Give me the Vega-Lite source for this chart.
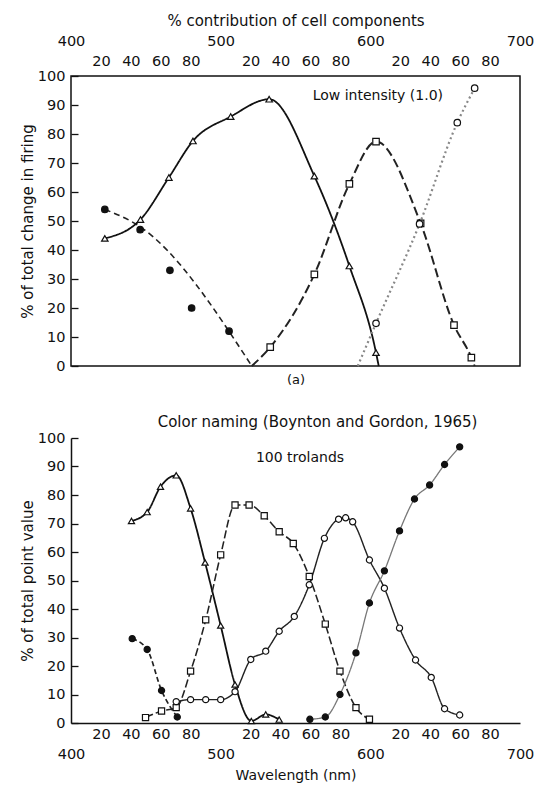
{
  "$schema": "https://vega.github.io/schema/vega-lite/v6.json",
  "background": "white",
  "padding": {"left": 19, "top": 12, "right": 5, "bottom": 0},
  "spacing": 28,
  "config": {
    "font": "DejaVu Sans",
    "view": {"stroke": null},
    "axis": {"labelFont": "DejaVu Sans", "titleFont": "DejaVu Sans", "labelColor": "#111", "titleColor": "#111", "labelFontSize": 14.5, "titleFontSize": 15, "titleFontWeight": "normal", "grid": false, "domainColor": "#111", "tickColor": "#111", "domainWidth": 1.5, "tickWidth": 1.3},
    "title": {"font": "DejaVu Sans", "fontWeight": "normal", "color": "#111"}
  },
  "resolve": {"scale": {"x": "independent", "y": "independent", "shape": "independent", "fill": "independent", "strokeDash": "independent", "strokeWidth": "independent", "color": "independent"}},
  "vconcat": [
    {
      "width": 449,
      "height": 290,
      "view": {"stroke": "#111", "strokeWidth": 1.5},
      "data": {"values": [
        {"series": "fc", "wl": 422.6, "pct": 54.0},
        {"series": "fc", "wl": 446.2, "pct": 47.0},
        {"series": "fc", "wl": 466.1, "pct": 33.0},
        {"series": "fc", "wl": 480.6, "pct": 20.0},
        {"series": "fc", "wl": 505.6, "pct": 12.0},
        {"series": "fcFit", "wl": 422.6, "pct": 54.0},
        {"series": "fcFit", "wl": 446.2, "pct": 48.0},
        {"series": "fcFit", "wl": 520.8, "pct": 0},
        {"series": "tri", "wl": 422.6, "pct": 44.0},
        {"series": "tri", "wl": 446.4, "pct": 50.5},
        {"series": "tri", "wl": 465.4, "pct": 65.0},
        {"series": "tri", "wl": 481.5, "pct": 77.6},
        {"series": "tri", "wl": 506.7, "pct": 86.0},
        {"series": "tri", "wl": 532.4, "pct": 92.0},
        {"series": "tri", "wl": 562.6, "pct": 65.5},
        {"series": "tri", "wl": 586.0, "pct": 34.5},
        {"series": "tri", "wl": 603.8, "pct": 4.6},
        {"series": "tri", "wl": 605.6, "pct": 0},
        {"series": "sq", "wl": 520.8, "pct": 0},
        {"series": "sq", "wl": 533.1, "pct": 6.5},
        {"series": "sq", "wl": 562.6, "pct": 31.6},
        {"series": "sq", "wl": 586.0, "pct": 62.8},
        {"series": "sq", "wl": 603.8, "pct": 77.4},
        {"series": "sq", "wl": 633.6, "pct": 49.2},
        {"series": "sq", "wl": 655.9, "pct": 14.1},
        {"series": "sq", "wl": 667.5, "pct": 2.9},
        {"series": "sq", "wl": 669.7, "pct": 0},
        {"series": "oc", "wl": 591.6, "pct": 0},
        {"series": "oc", "wl": 603.8, "pct": 14.7},
        {"series": "oc", "wl": 632.9, "pct": 49.0},
        {"series": "oc", "wl": 658.1, "pct": 83.9},
        {"series": "oc", "wl": 669.7, "pct": 95.8}
      ]},
      "encoding": {
        "y": {"field": "pct", "type": "quantitative", "scale": {"domain": [0, 100], "nice": false, "zero": false},
          "axis": {"values": [0, 10, 20, 30, 40, 50, 60, 70, 80, 90, 100], "domain": false, "tickSize": -7, "labelPadding": 13, "title": "% of total change in firing", "titlePadding": 2}}
      },
      "layer": [
        {
          "transform": [{"filter": "datum.series != 'fc'"}],
          "mark": {"type": "line", "interpolate": "monotone"},
          "encoding": {
            "x": {"field": "wl", "type": "quantitative", "scale": {"domain": [400, 700], "nice": false, "zero": false},
              "axis": {"orient": "top", "values": [420, 440, 460, 480, 520, 540, 560, 580, 620, 640, 660, 680],
                "labelExpr": "format(datum.value % 100, 'd')",
                "ticks": false, "domain": false, "labelPadding": 8, "labelFlush": false, "labelOverlap": false, "title": null}},
            "detail": {"field": "series"},
            "color": {"field": "series", "type": "nominal", "scale": {"domain": ["fcFit", "tri", "sq", "oc"], "range": ["#222", "#111", "#222", "#888"]}, "legend": null},
            "strokeDash": {"field": "series", "type": "nominal", "scale": {"domain": ["fcFit", "tri", "sq", "oc"], "range": [[6, 4], [1, 0], [9, 4], [2, 3]]}, "legend": null},
            "strokeWidth": {"field": "series", "type": "nominal", "scale": {"domain": ["fcFit", "tri", "sq", "oc"], "range": [1.6, 2.2, 1.7, 1]}, "legend": null}
          }
        },
        {
          "transform": [{"filter": "datum.pct > 0 && datum.series != 'fcFit'"}],
          "mark": {"type": "point", "filled": true, "stroke": "#111", "strokeWidth": 1.2, "size": 42, "opacity": 1},
          "encoding": {
            "x": {"field": "wl", "type": "quantitative", "scale": {"domain": [400, 700], "nice": false, "zero": false},
              "axis": {"orient": "bottom", "labels": false, "ticks": false, "domain": false, "title": "(a)", "titleFontSize": 13, "titlePadding": 7}},
            "shape": {"field": "series", "type": "nominal", "scale": {"domain": ["fc", "tri", "sq", "oc"], "range": ["circle", "triangle-up", "square", "circle"]}, "legend": null},
            "fill": {"field": "series", "type": "nominal", "scale": {"domain": ["fc", "tri", "sq", "oc"], "range": ["#111", "white", "white", "white"]}, "legend": null}
          }
        },
        {
          "data": {"values": [{"label": "Low intensity (1.0)", "wl": 605, "pct": 93}]},
          "mark": {"type": "text", "font": "DejaVu Sans", "fontSize": 14, "color": "#111"},
          "encoding": {
            "x": {"field": "wl", "type": "quantitative", "scale": {"domain": [400, 700], "nice": false, "zero": false},
              "axis": {"orient": "top", "values": [400, 500, 600, 700], "offset": 20, "ticks": false, "domain": false, "labelPadding": 8, "labelFlush": false, "labelOverlap": false,
                "title": "% contribution of cell components", "titlePadding": 5}},
            "text": {"field": "label"}
          }
        }
      ],
      "resolve": {"axis": {"x": "independent"}}
    },
    {
      "width": 449,
      "height": 285,
      "title": {"text": "Color naming (Boynton and Gordon, 1965)", "fontSize": 15, "anchor": "middle", "dx": 22, "offset": 0},
      "data": {"values": [
        {"series": "tri", "wl": 440.4, "pct": 70.9},
        {"series": "tri", "wl": 450.9, "pct": 74.0},
        {"series": "tri", "wl": 459.8, "pct": 82.9},
        {"series": "tri", "wl": 470.3, "pct": 86.9},
        {"series": "tri", "wl": 479.9, "pct": 75.3},
        {"series": "tri", "wl": 489.6, "pct": 56.3},
        {"series": "tri", "wl": 500.0, "pct": 34.2},
        {"series": "tri", "wl": 509.6, "pct": 13.5},
        {"series": "tri", "wl": 520.5, "pct": 0.7},
        {"series": "tri", "wl": 530.1, "pct": 3.0},
        {"series": "tri", "wl": 539.1, "pct": 1.2},
        {"series": "fcL", "wl": 440.9, "pct": 29.6},
        {"series": "fcL", "wl": 450.9, "pct": 25.8},
        {"series": "fcL", "wl": 460.5, "pct": 11.4},
        {"series": "fcL", "wl": 471.0, "pct": 2.1},
        {"series": "sq", "wl": 449.8, "pct": 1.9},
        {"series": "sq", "wl": 460.5, "pct": 4.2},
        {"series": "sq", "wl": 470.3, "pct": 5.4},
        {"series": "sq", "wl": 479.9, "pct": 18.2},
        {"series": "sq", "wl": 490.0, "pct": 36.2},
        {"series": "sq", "wl": 500.0, "pct": 59.0},
        {"series": "sq", "wl": 509.6, "pct": 76.5},
        {"series": "sq", "wl": 519.0, "pct": 76.5},
        {"series": "sq", "wl": 529.1, "pct": 72.7},
        {"series": "sq", "wl": 539.1, "pct": 67.1},
        {"series": "sq", "wl": 548.5, "pct": 63.0},
        {"series": "sq", "wl": 559.2, "pct": 51.4},
        {"series": "sq", "wl": 569.9, "pct": 34.7},
        {"series": "sq", "wl": 579.7, "pct": 18.2},
        {"series": "sq", "wl": 590.4, "pct": 5.4},
        {"series": "sq", "wl": 599.4, "pct": 1.3},
        {"series": "oc", "wl": 470.3, "pct": 7.5},
        {"series": "oc", "wl": 479.9, "pct": 8.2},
        {"series": "oc", "wl": 490.0, "pct": 8.2},
        {"series": "oc", "wl": 500.0, "pct": 8.2},
        {"series": "oc", "wl": 509.6, "pct": 11.0},
        {"series": "oc", "wl": 520.1, "pct": 22.3},
        {"series": "oc", "wl": 530.1, "pct": 25.2},
        {"series": "oc", "wl": 539.1, "pct": 32.2},
        {"series": "oc", "wl": 549.2, "pct": 37.4},
        {"series": "oc", "wl": 559.2, "pct": 48.5},
        {"series": "oc", "wl": 569.3, "pct": 64.8},
        {"series": "oc", "wl": 578.8, "pct": 71.5},
        {"series": "oc", "wl": 583.5, "pct": 72.0},
        {"series": "oc", "wl": 588.2, "pct": 70.6},
        {"series": "oc", "wl": 599.4, "pct": 57.2},
        {"series": "oc", "wl": 609.4, "pct": 47.3},
        {"series": "oc", "wl": 619.5, "pct": 33.3},
        {"series": "oc", "wl": 630.2, "pct": 22.1},
        {"series": "oc", "wl": 640.7, "pct": 16.0},
        {"series": "oc", "wl": 649.6, "pct": 5.0},
        {"series": "oc", "wl": 659.7, "pct": 2.8},
        {"series": "fcR", "wl": 559.6, "pct": 1.3},
        {"series": "fcR", "wl": 569.9, "pct": 2.1},
        {"series": "fcR", "wl": 579.7, "pct": 10.0},
        {"series": "fcR", "wl": 590.4, "pct": 24.6},
        {"series": "fcR", "wl": 599.4, "pct": 42.1},
        {"series": "fcR", "wl": 609.4, "pct": 53.4},
        {"series": "fcR", "wl": 619.5, "pct": 67.4},
        {"series": "fcR", "wl": 629.5, "pct": 78.6},
        {"series": "fcR", "wl": 639.6, "pct": 83.5},
        {"series": "fcR", "wl": 649.6, "pct": 90.7},
        {"series": "fcR", "wl": 659.7, "pct": 96.9}
      ]},
      "encoding": {
        "x": {"field": "wl", "type": "quantitative", "scale": {"domain": [400, 700], "nice": false, "zero": false},
          "axis": {"orient": "bottom", "values": [400, 420, 440, 460, 480, 500, 520, 540, 560, 580, 600, 620, 640, 660, 680, 700],
            "labelExpr": "datum.value % 100 == 0 ? ['', format(datum.value, 'd')] : format(datum.value % 100, 'd')",
            "ticks": false, "domain": true, "labelLineHeight": 20, "labelPadding": 4, "labelFlush": false, "labelOverlap": false,
            "title": "Wavelength (nm)", "titleFontSize": 14, "titlePadding": 8}},
        "y": {"field": "pct", "type": "quantitative", "scale": {"domain": [0, 100], "nice": false, "zero": false},
          "axis": {"values": [0, 10, 20, 30, 40, 50, 60, 70, 80, 90, 100], "domain": true, "tickSize": -7, "labelPadding": 13, "title": "% of total point value", "titlePadding": 2}}
      },
      "layer": [
        {
          "mark": {"type": "line", "interpolate": "monotone"},
          "encoding": {
            "detail": {"field": "series"},
            "color": {"field": "series", "type": "nominal", "scale": {"domain": ["tri", "fcL", "sq", "oc", "fcR"], "range": ["#111", "#222", "#222", "#222", "#777"]}, "legend": null},
            "strokeDash": {"field": "series", "type": "nominal", "scale": {"domain": ["tri", "fcL", "sq", "oc", "fcR"], "range": [[1, 0], [5, 3], [8, 3], [1, 0], [1, 0]]}, "legend": null},
            "strokeWidth": {"field": "series", "type": "nominal", "scale": {"domain": ["tri", "fcL", "sq", "oc", "fcR"], "range": [1.8, 1.3, 1.6, 1.6, 1]}, "legend": null}
          }
        },
        {
          "mark": {"type": "point", "filled": true, "stroke": "#111", "strokeWidth": 1.2, "size": 38, "opacity": 1},
          "encoding": {
            "shape": {"field": "series", "type": "nominal", "scale": {"domain": ["tri", "fcL", "sq", "oc", "fcR"], "range": ["triangle-up", "circle", "square", "circle", "circle"]}, "legend": null},
            "fill": {"field": "series", "type": "nominal", "scale": {"domain": ["tri", "fcL", "sq", "oc", "fcR"], "range": ["white", "#111", "white", "white", "#111"]}, "legend": null}
          }
        },
        {
          "data": {"values": [{"label": "100 trolands", "wl": 553, "pct": 93}]},
          "mark": {"type": "text", "font": "DejaVu Sans", "fontSize": 14, "color": "#111"},
          "encoding": {"text": {"field": "label"}}
        }
      ]
    }
  ]
}
